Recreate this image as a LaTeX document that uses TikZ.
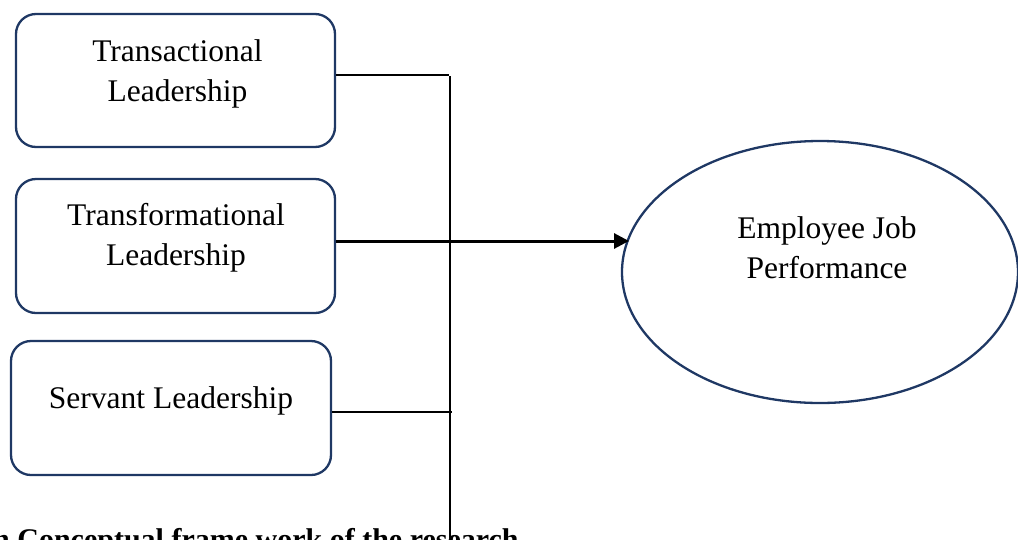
\documentclass[tikz,border=0pt]{standalone}
\usepackage{fontspec}
\setmainfont{Liberation Serif}
\usetikzlibrary{shapes.geometric,arrows.meta}
\definecolor{navy}{HTML}{1F3864}
\tikzset{
  varbox/.style={draw=navy, line width=2.3pt, rounded corners=20pt, rectangle, inner sep=0pt},
  txt/.style={inner sep=0pt, align=center, font=\fontsize{31.5}{40}\selectfont},
  thin/.style={draw=black, line width=1.4pt},
  mainarrow/.style={draw=black, line width=3pt, -{Triangle[length=15pt,width=15pt]}}
}
\begin{document}
\begin{tikzpicture}[x=1pt,y=-1pt]
\useasboundingbox (0,0) rectangle (1018,539);
% boxes
\node[varbox, minimum width=319pt, minimum height=133pt] (b1) at (175.5,80.5) {};
\node[varbox, minimum width=319pt, minimum height=134pt] (b2) at (175.5,246) {};
\node[varbox, minimum width=320pt, minimum height=134pt] (b3) at (171,408) {};
% ellipse
\node[draw=navy, line width=2.3pt, ellipse, minimum width=396pt, minimum height=262pt, inner sep=0pt] (el) at (820,272) {};
% texts
\node[txt] (t1) at (177.5,74) {Transactional\\Leadership};
\node[txt] (t2) at (176,237.7) {Transformational\\Leadership};
\node[txt, anchor=base] (t3) at (171,408) {Servant Leadership};
\node[txt] (t4) at (827,247.3) {Employee Job\\Performance};
% caption (cut off at the bottom edge, as in the reference)
\node[inner sep=0pt, anchor=base west, font=\fontsize{30}{38}\selectfont\bfseries] (cap) at (-7,549) {n Conceptual frame work of the research};
% connectors
\coordinate (j1) at (449,75);
\coordinate (vt) at (450,76);
\coordinate (vb) at (450,545);
\coordinate (j3) at (452,412);
\coordinate (ah) at (629,241);
\draw[thin] (b1.east |- j1) -- (j1);
\draw[thin] (vt) -- (vb);
\draw[thin] (b3.east |- j3) -- (j3);
\draw[mainarrow] (b2.east |- ah) -- (ah);
\end{tikzpicture}
\end{document}
